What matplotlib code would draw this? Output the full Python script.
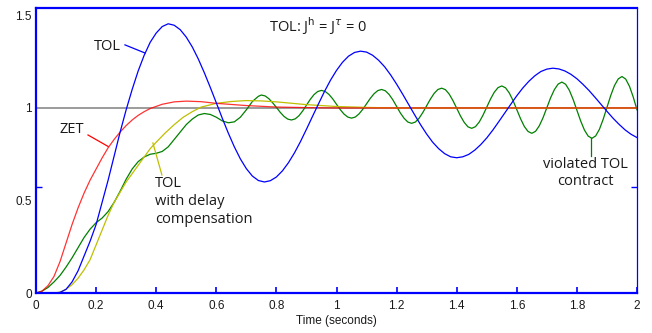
import numpy as np
import matplotlib
matplotlib.use("Agg")
import matplotlib.pyplot as plt

# step responses
# TOL (no compensation), every 0.02 s
t_tol = np.round(np.arange(0, 2.0001, 0.02), 3)
y_tol = [0, 0, 0, 0, 0.003, 0.02, 0.06, 0.12, 0.20, 0.28, 0.37, 0.49, 0.61, 0.74,
         0.87, 0.99, 1.10, 1.20, 1.285, 1.355, 1.405, 1.44,
         1.455, 1.447, 1.423, 1.383, 1.330, 1.265, 1.191, 1.111, 1.028, 0.944, 0.864, 0.790,
         0.725, 0.672, 0.632, 0.608,
         0.600, 0.607, 0.627, 0.660, 0.704, 0.757, 0.818, 0.885, 0.954, 1.022, 1.089, 1.150,
         1.203, 1.247, 1.280, 1.300,
         1.307, 1.302, 1.285, 1.258, 1.223, 1.179, 1.129, 1.075, 1.019, 0.963, 0.909, 0.859,
         0.815, 0.780, 0.753, 0.736,
         0.731, 0.736, 0.749, 0.772, 0.802, 0.838, 0.880, 0.926, 0.973, 1.020, 1.066, 1.108,
         1.144, 1.174, 1.197, 1.210,
         1.215, 1.211, 1.200, 1.182, 1.158, 1.128, 1.095, 1.058, 1.020, 0.982, 0.945, 0.912,
         0.882, 0.858, 0.840]

t_zet = [0, 0.02, 0.04, 0.06, 0.08, 0.10, 0.12, 0.14, 0.16, 0.18, 0.20, 0.22, 0.24, 0.26,
         0.28, 0.30, 0.32, 0.34, 0.36, 0.38, 0.42, 0.46, 0.50, 0.55, 0.60, 0.70, 0.80, 0.90,
         1.00, 2.00]
y_zet = [0, 0.01, 0.04, 0.09, 0.17, 0.27, 0.37, 0.46, 0.54, 0.61, 0.67, 0.73, 0.785, 0.83,
         0.87, 0.905, 0.935, 0.96, 0.98, 0.997, 1.02, 1.033, 1.037, 1.034, 1.025, 1.013, 1.005, 1.002,
         1.0, 1.0]

t_delay = [0, 0.06, 0.08, 0.10, 0.12, 0.14, 0.16, 0.18, 0.20, 0.22, 0.24, 0.26, 0.28, 0.30,
           0.32, 0.34, 0.36, 0.38, 0.40, 0.43, 0.46, 0.49, 0.52, 0.55, 0.60, 0.65, 0.70, 0.75,
           0.80, 0.90, 1.00, 1.10, 1.20, 2.00]
y_delay = [0, 0, 0.005, 0.02, 0.045, 0.08, 0.125, 0.18, 0.26, 0.34, 0.42, 0.49, 0.545, 0.60,
           0.645, 0.69, 0.735, 0.78, 0.815, 0.865, 0.91, 0.95, 0.98, 1.005, 1.025, 1.035, 1.04, 1.038,
           1.033, 1.018, 1.008, 1.003, 1.0, 1.0]

# violated contract: early part every 0.02 s, then every 0.0125 s
t_viol_a = [0, 0.02, 0.04, 0.06, 0.08, 0.10, 0.12, 0.14, 0.16, 0.18, 0.20, 0.22, 0.24, 0.26,
            0.28, 0.30, 0.32, 0.34, 0.36, 0.38, 0.40, 0.42, 0.44, 0.46, 0.48, 0.50, 0.52, 0.54,
            0.56, 0.58, 0.60, 0.62, 0.64, 0.66, 0.68, 0.70, 0.72, 0.74]
y_viol_a = [0, 0.01, 0.03, 0.06, 0.095, 0.14, 0.19, 0.245, 0.30, 0.345, 0.38, 0.405, 0.44, 0.49,
            0.55, 0.615, 0.67, 0.71, 0.735, 0.75, 0.755, 0.765, 0.79, 0.83, 0.87, 0.91, 0.94, 0.962,
            0.97, 0.965, 0.95, 0.93, 0.92, 0.925, 0.95, 0.99, 1.035, 1.063]
t_viol_b = np.round(np.arange(0.75, 2.0001, 0.0125), 4)
y_viol_b = [1.070, 1.065, 1.050, 1.028, 1.003, 0.977, 0.955, 0.940,
            0.935, 0.941, 0.958, 0.984, 1.015, 1.046, 1.072, 1.089,
            1.095, 1.089, 1.073, 1.049, 1.020, 0.991, 0.967, 0.951,
            0.945, 0.951, 0.968, 0.993, 1.023, 1.052, 1.077, 1.094,
            1.100, 1.093, 1.073, 1.044, 1.009, 0.973, 0.944, 0.924,
            0.917, 0.924, 0.945, 0.976, 1.012, 1.048, 1.079, 1.100,
            1.107, 1.099, 1.075, 1.040, 0.999, 0.957, 0.922, 0.898,
            0.890, 0.899, 0.924, 0.961, 1.005, 1.048, 1.085, 1.110,
            1.119, 1.109, 1.081, 1.040, 0.991, 0.942, 0.900, 0.873,
            0.863, 0.874, 0.904, 0.948, 1.002, 1.055, 1.099, 1.129,
            1.140, 1.128, 1.095, 1.046, 0.988, 0.930, 0.881, 0.848,
            0.836, 0.849, 0.885, 0.939, 1.003, 1.067, 1.121, 1.157,
            1.170, 1.156, 1.117, 1.059, 0.990]

x_ticks = [0, 0.2, 0.4, 0.6, 0.8, 1, 1.2, 1.4, 1.6, 1.8, 2]
x_labels = ["0", "0.2", "0.4", "0.6", "0.8", "1", "1.2", "1.4", "1.6", "1.8", "2"]
y_ticks = [0, 0.5, 1, 1.5]
y_labels = ["0", "0.5", "1", "1.5"]

BLUE = "#0000ff"
RED = "#ff0000"
GREEN = "#008000"
YELLOW = "#bfbf00"
TXT = "#1a1a1a"
lw = 0.9
ann_font = dict(family="Open Sans", fontsize=10.5, color=TXT)

fig = plt.figure(figsize=(6.52, 3.33), dpi=100)
ax = fig.add_axes([36 / 652, 1 - 293 / 333, 601 / 652, 285.5 / 333])

ax.axhline(1, color="#808080", lw=1.1, zorder=1)
ax.plot(t_tol, y_tol, color=BLUE, lw=lw, zorder=3)
ax.plot(np.concatenate([t_viol_a, t_viol_b]), y_viol_a + y_viol_b, color=GREEN, lw=lw, zorder=2)
ax.plot(t_delay, y_delay, color=YELLOW, lw=lw, zorder=2)
ax.plot(t_zet, y_zet, color=RED, lw=lw, zorder=2, alpha=0.8)

ax.set_xlim(0, 2)
ax.set_ylim(0, 1.543)

# annotations with leader lines
ax.text(0.238, 1.33, "TOL", ha="center", va="center", **ann_font)
ax.plot([0.296, 0.363], [1.341, 1.297], color=BLUE, lw=lw)
ax.text(0.12, 0.886, "ZET", ha="center", va="center", **ann_font)
ax.plot([0.173, 0.240], [0.854, 0.792], color=RED, lw=lw)
ax.text(0.396, 0.63, "TOL\nwith delay\ncompensation", ha="left", va="top",
        linespacing=1.25, **ann_font)
ax.plot([0.389, 0.419], [0.811, 0.638], color=YELLOW, lw=lw)
ax.text(1.827, 0.735, "violated TOL\ncontract", ha="center", va="top",
        multialignment="center", linespacing=1.2, **ann_font)
ax.plot([1.847, 1.847], [0.836, 0.738], color=GREEN, lw=lw)
ax.text(0.938, 1.443, r"TOL: J$^{\mathrm{h}}$ = J$^{\tau}$ = 0", ha="center", va="center",
        **ann_font)

# axes frame
for side in ["left", "bottom", "top"]:
    ax.spines[side].set_color(BLUE)
    ax.spines[side].set_linewidth(1.6)
ax.spines["right"].set_color(BLUE)
ax.spines["right"].set_linewidth(0.9)

ax.set_xticks(x_ticks)
ax.set_xticklabels(x_labels, family="Liberation Sans", fontsize=8.5, color=TXT)
ax.tick_params(axis="x", direction="in", length=4, width=1.2, color=BLUE, pad=5)
ax.set_yticks(y_ticks)
ax.set_yticklabels(y_labels, family="Liberation Sans", fontsize=8.5, color=TXT)
ax.tick_params(axis="y", which="major", length=0, pad=3)
ax.set_yticks([0.573], minor=True)
ax.tick_params(axis="y", which="minor", direction="in", length=4, width=1.0,
               color=BLUE, left=True, right=True)
ax.set_xlabel("Time (seconds)", family="Liberation Sans", fontsize=8.5, color=TXT, labelpad=2)

fig.savefig("out.png", dpi=100)
